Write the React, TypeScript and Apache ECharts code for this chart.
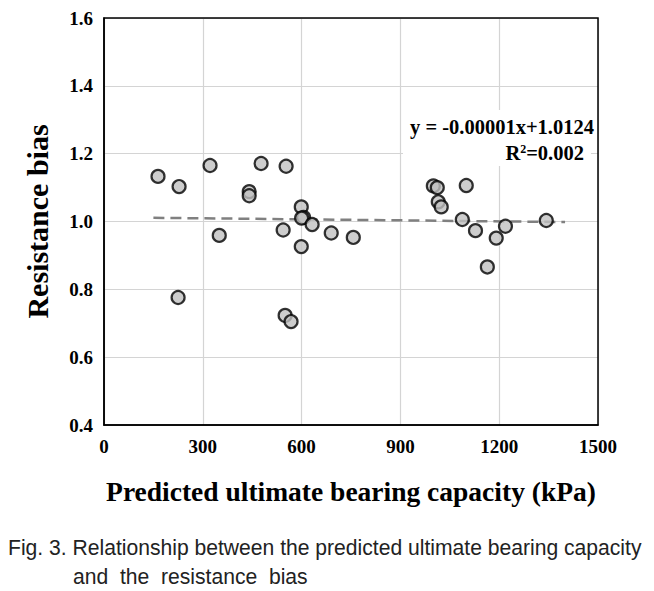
import React, { useEffect, useRef } from "react";
import * as echarts from "echarts";

const capacityKPa = [164, 228, 322, 225, 350, 441, 441, 477, 553, 544, 550, 568, 599, 606, 600, 632, 599, 690, 757, 1000, 1012, 1015, 1024, 1100, 1088, 1128, 1191, 1219, 1164, 1343];
const resistanceBias = [1.133, 1.103, 1.165, 0.776, 0.959, 1.088, 1.076, 1.171, 1.163, 0.975, 0.723, 0.705, 1.043, 1.012, 1.010, 0.991, 0.926, 0.966, 0.953, 1.105, 1.100, 1.058, 1.043, 1.106, 1.006, 0.973, 0.951, 0.986, 0.866, 1.003];

const trendSlope = -0.00001;
const trendIntercept = 1.0124;
const trendX = [150, 1400];

const xTicks = [0, 300, 600, 900, 1200, 1500];
const yTicks = [0.4, 0.6, 0.8, 1.0, 1.2, 1.4, 1.6];

const equationText = "y = -0.00001x+1.0124";
const r2Text = "R{sup|2}=0.002";
const captionLine1 = "Fig. 3. Relationship between the predicted ultimate bearing capacity";
const captionLine2 = "and  the  resistance  bias";

export default function App() {
  const ref = useRef<HTMLDivElement>(null);
  useEffect(() => {
    if (!ref.current) return;
    const chart = echarts.init(ref.current, null, { renderer: "svg" });
    const serif = "Liberation Serif";
    const capFont = "Liberation Sans";
    const scatterData = capacityKPa.map((x, i) => [x, resistanceBias[i]]);
    const trendData = trendX.map((x) => [x, trendSlope * x + trendIntercept]);
    chart.setOption({
      animation: false,
      backgroundColor: "#ffffff",
      grid: { left: 104, right: 56, top: 18, bottom: 166 },
      xAxis: {
        type: "value",
        min: xTicks[0],
        max: xTicks[xTicks.length - 1],
        interval: 300,
        name: "Predicted ultimate bearing capacity (kPa)",
        nameLocation: "middle",
        nameGap: 52,
        nameTextStyle: { fontFamily: serif, fontWeight: "bold", fontSize: 27.5, color: "#000" },
        axisLine: { show: true, lineStyle: { color: "#000", width: 1.5 } },
        axisTick: { show: false },
        axisLabel: {
          fontFamily: serif,
          fontWeight: "bold",
          fontSize: 19,
          color: "#000",
          margin: 12,
          formatter: (v: number) => String(v),
        },
        splitLine: { show: true, lineStyle: { color: "#d4d4d4", width: 1.2 } },
      },
      yAxis: {
        type: "value",
        min: yTicks[0],
        max: yTicks[yTicks.length - 1],
        interval: 0.2,
        name: "Resistance bias",
        nameLocation: "middle",
        nameGap: 52,
        nameRotate: 90,
        nameTextStyle: { fontFamily: serif, fontWeight: "bold", fontSize: 30, color: "#000" },
        axisLine: { show: true, lineStyle: { color: "#000", width: 1.5 } },
        axisTick: { show: false },
        axisLabel: {
          fontFamily: serif,
          fontWeight: "bold",
          fontSize: 19,
          color: "#000",
          margin: 11,
          formatter: (v: number) => v.toFixed(1),
        },
        splitLine: { show: true, lineStyle: { color: "#d4d4d4", width: 1.2 } },
      },
      series: [
        {
          type: "line",
          data: trendData,
          symbol: "none",
          lineStyle: { color: "#808080", width: 2.5, type: [11, 6] },
          z: 2,
        },
        {
          type: "scatter",
          data: scatterData,
          symbol: "circle",
          symbolSize: 13,
          itemStyle: { color: "#c0c0c0", borderColor: "#000", borderWidth: 2.2 },
          z: 3,
        },
      ],
      graphic: [
        {
          type: "rect",
          shape: { x: 104, y: 18, width: 494, height: 407 },
          style: { fill: "none", stroke: "#000", lineWidth: 1.5 },
          silent: true,
          z: 10,
        },
        {
          type: "rect",
          shape: { x: 403, y: 110, width: 188, height: 56 },
          style: { fill: "#ffffff" },
          silent: true,
          z: 5,
        },
        {
          type: "text",
          x: 594,
          y: 127,
          style: {
            text: equationText,
            fontFamily: serif,
            fontWeight: "bold",
            fontSize: 20.5,
            fill: "#000",
            align: "right",
            verticalAlign: "middle",
          },
          z: 6,
        },
        {
          type: "text",
          x: 584,
          y: 153,
          style: {
            text: r2Text,
            fontFamily: serif,
            fontWeight: "bold",
            fontSize: 20.5,
            fill: "#000",
            align: "right",
            verticalAlign: "middle",
            rich: { sup: { fontSize: 12, fontFamily: serif, fontWeight: "bold", verticalAlign: "top", padding: [0, 0, 9, 0] } },
          },
          z: 6,
        },
        {
          type: "text",
          x: 8,
          y: 547,
          scaleX: 0.96,
          style: {
            text: captionLine1,
            fontFamily: capFont,
            fontSize: 22,
            fill: "#222",
            verticalAlign: "middle",
          },
        },
        {
          type: "text",
          x: 73,
          y: 576,
          scaleX: 0.96,
          style: {
            text: captionLine2,
            fontFamily: capFont,
            fontSize: 22,
            fill: "#222",
            verticalAlign: "middle",
          },
        },
      ],
    });
    return () => chart.dispose();
  }, []);
  return <div ref={ref} style={{ width: 654, height: 591, position: "fixed", left: 0, top: 0 }} />;
}
